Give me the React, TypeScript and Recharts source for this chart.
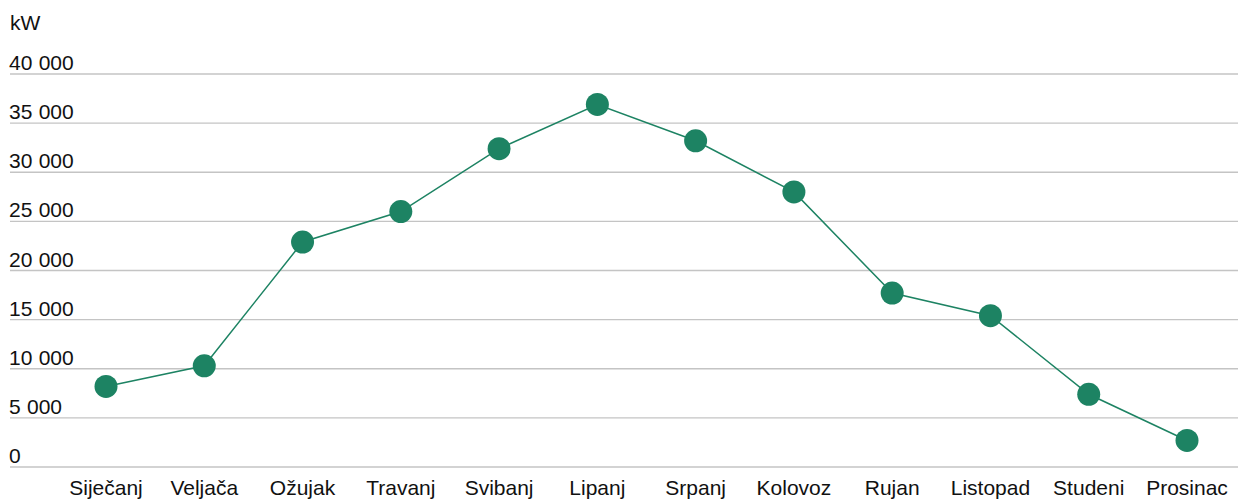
import React from 'react';
import { LineChart, Line, XAxis, YAxis, CartesianGrid } from 'recharts';

const months = [
  'Siječanj', 'Veljača', 'Ožujak', 'Travanj', 'Svibanj', 'Lipanj',
  'Srpanj', 'Kolovoz', 'Rujan', 'Listopad', 'Studeni', 'Prosinac',
];
const power = [8200, 10300, 22900, 26000, 32400, 36900, 33200, 28000, 17700, 15400, 7400, 2700];
const yTicks = [0, 5000, 10000, 15000, 20000, 25000, 30000, 35000, 40000];
const unitLabel = 'kW';

const data = months.map((month, i) => ({ month, value: power[i] }));

const green = '#1d8363';
const textColor = '#111111';
const fontFamily = '"Liberation Sans", Arial, sans-serif';

// "40 000" style thousands
const fmt = (v: number) => {
  if (v < 1000) return String(v);
  const th = Math.floor(v / 1000);
  const rest = String(v % 1000).padStart(3, '0');
  return `${th} ${rest}`;
};

const YTick = (props: any) => {
  const { y, payload } = props;
  return (
    <text x={9} y={y - 4} fontSize={21} fill={textColor} fontFamily={fontFamily} wordSpacing={0.5}>
      {fmt(payload.value)}
    </text>
  );
};

const XTick = (props: any) => {
  const { x, payload } = props;
  return (
    <text x={x} y={495} fontSize={21} fill={textColor} fontFamily={fontFamily} textAnchor="middle">
      {payload.value}
    </text>
  );
};

export default function App() {
  return (
    <div style={{ position: 'relative', width: 1238, height: 501, background: '#fff' }}>
      <style>{'body{margin:0;}'}</style>
      <div
        style={{
          position: 'absolute',
          left: 10,
          top: 10,
          fontSize: 21,
          lineHeight: '26px',
          color: textColor,
          fontFamily,
        }}
      >
        {unitLabel}
      </div>
      <LineChart width={1238} height={501} data={data} margin={{ top: 74, right: 0, left: 9, bottom: 4 }}>
        <CartesianGrid vertical={false} stroke="#c4c4c4" strokeWidth={1.3} />
        <XAxis
          dataKey="month"
          height={30}
          axisLine={false}
          tickLine={false}
          interval={0}
          padding={{ left: 96, right: 51 }}
          tick={XTick}
        />
        <YAxis
          width={1}
          domain={[0, 40000]}
          ticks={yTicks}
          interval={0}
          axisLine={false}
          tickLine={false}
          tick={YTick}
        />
        <Line
          type="linear"
          dataKey="value"
          stroke={green}
          strokeWidth={1.5}
          dot={{ r: 11.5, fill: green, stroke: 'none' }}
          activeDot={false}
          isAnimationActive={false}
        />
      </LineChart>
    </div>
  );
}
